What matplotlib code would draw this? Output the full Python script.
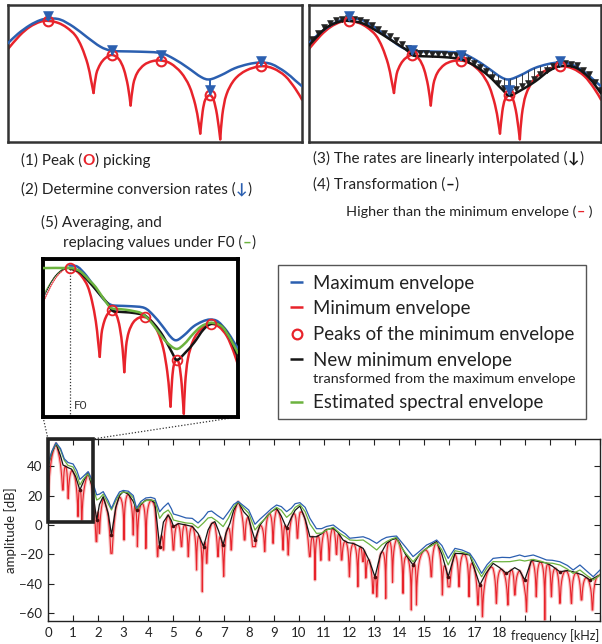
import numpy as np
import matplotlib
matplotlib.use("Agg")
import matplotlib.pyplot as plt
from matplotlib.path import Path
from matplotlib.patches import PathPatch, Rectangle
from matplotlib.transforms import ScaledTranslation

plt.rcParams['font.family'] = ['Lato', 'DejaVu Sans']

BLUE = '#2b5fb0'
RED = '#e8232b'
GREEN = '#6cb33f'
BLACK = '#151515'

# ---------------- schematic curves (normalised 0-100 coordinates) ----------------
sk_max_x = [0, 3.4, 7.4, 10.9, 13.7, 17.7, 22.3, 26.9, 31.4, 34.9, 38.3, 45.1, 52.0,
            56.6, 61.1, 65.7, 68.6, 72.6, 77.1, 81.7, 85.7, 89.7, 94.3, 97.7, 100]
sk_max_y = [72.1, 79.0, 85.2, 88.9, 90.1, 89.4, 84.0, 76.5, 69.6, 66.7, 66.2, 65.9, 64.9,
            60.5, 54.3, 47.4, 45.7, 48.9, 53.8, 56.8, 58.0, 56.8, 51.1, 44.9, 40.7]

# minimum envelope: lobes separated by the dips listed in sk_dip_x
sk_min_x = [0, 4.0, 7.4, 10.9, 13.7, 17.1, 20.0, 22.9, 25.1, 27.1, 28.2, 29.1,
            30.0, 31.4, 33.1, 35.4, 37.7, 39.4, 40.8, 41.7,
            42.6, 44.0, 46.3, 49.1, 52.2, 55.4, 58.9, 61.7, 63.7, 64.8, 65.4,
            66.2, 67.1, 68.6, 69.9, 71.1, 72.2,
            72.9, 74.3, 77.1, 81.1, 86.1, 90.3, 94.3, 97.7, 100]
sk_min_y = [67.9, 77.8, 84.0, 87.7, 88.4, 86.9, 83.5, 77.8, 69.1, 56.8, 45.7, 35.8,
            49.4, 56.8, 61.2, 63.5, 60.5, 53.1, 40.7, 26.7,
            42.0, 50.6, 56.3, 59.0, 59.4, 57.2, 50.6, 40.7, 27.2, 14.8, 6.2,
            22.2, 30.9, 34.1, 30.9, 19.8, 2.0,
            19.8, 34.6, 45.7, 52.3, 55.3, 53.6, 48.1, 39.0, 30.9]
sk_dip_x = [29.1, 41.7, 65.4, 72.2]

sk_peak_x = [13.7, 35.4, 52.2, 68.6, 86.1]
sk_peak_y = [88.4, 63.5, 59.4, 34.1, 55.3]

sk_new_x = [0, 5.5, 10.1, 13.7, 18.6, 23.8, 28.3, 32.9, 35.4, 37.5, 44.3, 50.1, 52.5,
            57.0, 61.6, 66.2, 68.7, 73.0, 77.6, 82.2, 86.4, 91.3, 95.9, 100]
sk_new_y = [70.5, 82.7, 87.6, 88.4, 86.4, 80.2, 74.1, 67.9, 63.5, 62.7, 62.2, 61.2, 60.2,
            55.3, 48.1, 38.3, 33.9, 38.3, 44.4, 51.9, 55.5, 54.3, 46.9, 35.5]

sk_est_x = [0, 13.7, 17.5, 20.2, 24.0, 27.1, 31.0, 34.8, 38.5, 42.5, 46.5, 50.3, 54.0,
            58.0, 63.0, 68.3, 72.5, 76.8, 81.0, 85.4, 89.0, 92.3, 96.0, 100]
sk_est_y = [88.6, 88.6, 87.6, 85.6, 81.0, 77.2, 70.5, 65.0, 64.3, 63.8, 63.0, 61.8, 58.3,
            52.5, 45.0, 40.5, 43.5, 49.2, 53.8, 56.0, 55.5, 53.2, 46.7, 38.0]
sk_f0 = 13.7

# ---------------- measured spectrum (kHz, dB) ----------------
max_freq = [0.0, 0.15, 0.32, 0.5, 0.65, 0.8, 1.0, 1.15, 1.27, 1.4, 1.6, 1.75, 1.94, 2.05, 2.2,
            2.4, 2.53, 2.7, 2.85, 3.0, 3.2, 3.4, 3.53, 3.7, 3.9, 4.1, 4.26, 4.45, 4.6, 4.79,
            4.92, 5.0, 5.2, 5.5, 5.75, 5.98, 6.2, 6.38, 6.52, 6.75, 6.98, 7.2, 7.4, 7.58, 7.8,
            8.0, 8.25, 8.45, 8.71, 8.9, 9.11, 9.3, 9.51, 9.7, 9.85, 10.04, 10.25, 10.44, 10.7,
            10.9, 11.1, 11.37, 11.63, 11.85, 12.03, 12.3, 12.56, 12.8, 13.1, 13.3, 13.49, 13.7,
            13.89, 14.02, 14.25, 14.55, 14.8, 15.09, 15.3, 15.49, 15.7, 15.95, 16.22, 16.5,
            16.81, 17.0, 17.28, 17.5, 17.74, 18.1, 18.41, 18.8, 19.0, 19.34, 19.6, 19.87, 20.1,
            20.4, 20.7, 20.93, 21.2, 21.45, 21.73, 22.0]
max_db = [42, 50, 56, 52, 45, 42.5, 41.5, 37, 31, 33, 36.3, 31, 20.5, 21, 22.7,
          16.5, 11.3, 18, 22.5, 23.5, 23, 20, 11.5, 16, 18.4, 18.8, 18, 9, 12, 15,
          11, 7.5, 6.5, 4.8, 4.5, 1.4, 5, 9, 9.5, 6.5, 3.9, 9, 14, 16, 13,
          10.2, 0.5, 4, 8, 11, 13.6, 12.5, 9.1, 11.5, 14.5, 15.2, 12, 4.5, -2.5,
          -2.5, -1, 0, -3.4, -6, -9, -8.5, -8, -9.5, -12.5, -10, -8.4, -7.8,
          -7.5, -10.2, -15, -21.5, -18, -13.6, -12, -10.2, -14, -22.7, -15.9, -17,
          -19.3, -24, -32.9, -27, -22.7, -22, -22.2, -20.4, -21.5, -20.4, -22, -23.8, -24,
          -25, -27.5, -30.6, -27.2, -31, -35.2, -30.6]

est_freq = max_freq
est_db = [41, 49.5, 55.5, 51, 44, 40.5, 39.5, 34, 27.2, 31, 35, 29, 17, 18, 21,
          14.5, 10.2, 16.5, 21, 22.5, 22, 18.5, 10.2, 14.5, 16.5, 17, 16.5, 4.5, 8, 10.2,
          7, 3.4, 2.5, 1.4, 1, -2, 1.5, 4.8, 5.2, 2.5, -1.1, 5, 12, 15.9, 11.5,
          8, -3.4, 1, 5.2, 9, 12, 10, 5.2, 8, 12, 14, 9, 0.7, -5.7,
          -5.5, -3.5, -1.6, -5.7, -8, -10.2, -10.5, -10.2, -13, -17, -13.5, -11.3, -9.5,
          -8.4, -13.6, -19, -25, -20, -15.9, -14, -12, -17, -27.2, -17.5, -18.5,
          -20, -27, -35.2, -29, -24.9, -25, -24.9, -23.8, -24.5, -23.4, -24.5, -25.9, -26,
          -27.2, -30, -32.9, -30.6, -34, -37.4, -34]

new_freq = [0.0, 0.15, 0.32, 0.5, 0.6, 0.8, 0.94, 1.1, 1.27, 1.45, 1.6, 1.75, 1.94, 2.05, 2.2,
            2.4, 2.53, 2.7, 2.85, 3.0, 3.2, 3.4, 3.53, 3.7, 3.9, 4.1, 4.26, 4.45, 4.6, 4.79,
            4.92, 5.0, 5.2, 5.5, 5.75, 5.98, 6.2, 6.38, 6.52, 6.65, 6.8, 6.98, 7.1, 7.25, 7.4,
            7.58, 7.8, 7.98, 8.1, 8.25, 8.45, 8.71, 8.9, 9.11, 9.3, 9.51, 9.7, 9.85, 10.04,
            10.25, 10.44, 10.7, 10.9, 11.1, 11.37, 11.55, 11.76, 11.95, 12.16, 12.35, 12.56,
            12.8, 13.03, 13.25, 13.49, 13.7, 13.89, 14.02, 14.25, 14.55, 14.8, 15.09, 15.3,
            15.49, 15.7, 15.95, 16.22, 16.5, 16.81, 17.0, 17.21, 17.45, 17.74, 18.0, 18.27,
            18.6, 18.8, 19.0, 19.27, 19.6, 19.87, 20.1, 20.4, 20.7, 20.93, 21.3, 21.6, 22.0]
new_db = [40, 49, 55.5, 47, 40.8, 39, 38, 33, 23.8, 31, 35.5, 27, 3.4, 14, 19.3,
          8, -6.8, 12, 20, 22.7, 21, 16, 10.2, 14, 17, 17, 15, -14.7, 2, 6.8,
          3, -1, 1, 0, -1, -5.7, -14.7, -3.4, 1, 2.3, -4, -13.6, -5, 1.1, 10,
          15.9, 9, 5.7, -2, -10.2, 0, 5.7, 9, 11.3, 6, -2.3, 5, 10, 12.9,
          4, -8, -8, -6, -3, -2.3, -5, -10.2, -12, -12.5, -14, -15.9,
          -24, -35.2, -20, -12.5, -10, -9.1, -12.5, -20, -27.2, -20, -15.9, -13,
          -11.3, -20, -35.2, -19.3, -19.5, -20.4, -30, -40.8, -33, -26.1, -29, -32.9,
          -29, -31, -37.4, -24, -25, -25.9, -28, -31.8, -31, -31.8, -34, -37.4, -34]

dip_freq = [0.0, 0.6, 0.8, 1.2, 1.34, 1.94, 2.04, 2.53, 3.03, 3.4, 3.56, 3.9, 4.37, 4.6,
            5.0, 5.32, 5.59, 5.92, 6.15, 6.32, 6.78, 7.0, 7.3, 7.84, 8.18, 8.64, 8.97,
            9.37, 9.57, 9.94, 10.44, 10.64, 10.87, 11.21, 11.5, 11.7, 12.01, 12.35, 12.56,
            12.66, 12.96, 13.1, 13.46, 13.73, 14.15, 14.48, 14.68, 15.28, 15.72, 15.98,
            16.38, 16.78, 17.14, 17.31, 17.87, 18.33, 18.6, 19.07, 19.46, 19.8, 20.06,
            20.4, 20.86, 21.26, 21.7]
dip_db = [12, 23.8, 18, 5.7, 3.4, -11.3, -5.7, -19.3, -10.2, -6.8, -14.7, -16, -21.5, -17,
          -17, -14.7, -21.5, -30.6, -45.4, -26, -21.5, -35, -17, -10.2, -14.7, -18, -12.5,
          -17, -20.4, -9, -21.5, -37.4, -24, -24, -20, -23.8, -35.2, -42, -24.9,
          -36, -46.5, -48.8, -50, -39, -46.5, -57.8, -54.4, -35.2, -47.6, -42,
          -42, -48.8, -54.4, -62.4, -53.3, -54.4, -47.6, -59, -48.8, -64.6, -48.8,
          -53.3, -53.3, -51, -57.8]

freq_ticks = list(range(0, 23))
freq_labels = [str(v) if v <= 18 else '' for v in freq_ticks]
db_ticks = [-60, -40, -20, 0, 20, 40]

# ---------------- figure ----------------
W, H = 602, 644
fig = plt.figure(figsize=(W / 100, H / 100), dpi=100)


def px_axes(l, t, r, b, **kw):
    return fig.add_axes([l / W, 1 - b / H, (r - l) / W, (b - t) / H], **kw)


bg = px_axes(0, 0, W, H)
bg.set_xlim(0, W)
bg.set_ylim(H, 0)
bg.axis('off')


def smooth_path(x, y):
    p = np.column_stack([x, y]).astype(float)
    ext = np.vstack([p[0], p, p[-1]])
    verts = [p[0]]
    codes = [Path.MOVETO]
    for i in range(len(p) - 1):
        p0, p1, p2, p3 = ext[i], ext[i + 1], ext[i + 2], ext[i + 3]
        verts += [p1 + (p2 - p0) / 6, p2 - (p3 - p1) / 6, p2]
        codes += [Path.CURVE4] * 3
    return Path(verts, codes)


def curve(ax, x, y, color, lw=1.8, ls='-', z=2):
    ax.add_patch(PathPatch(smooth_path(x, y), fill=False, edgecolor=color, lw=lw,
                           ls=ls, zorder=z, capstyle='round', joinstyle='round'))


def lobes(x, y, cuts):
    x = np.asarray(x, float)
    y = np.asarray(y, float)
    out, start = [], 0
    for i in range(1, len(x)):
        if np.any(np.isclose(x[i], cuts)):
            out.append((x[start:i + 1], y[start:i + 1]))
            start = i
    out.append((x[start:], y[start:]))
    return out


def down_arrow(ax, x, y0, y1, color, ms, lw, z):
    ax.plot([x, x], [y0, y1], color=color, lw=lw, zorder=z, solid_capstyle='butt')
    tr = ax.transData + ScaledTranslation(0, ms / 2 / 72, fig.dpi_scale_trans)
    ax.plot([x], [y1], marker='v', ms=ms, color=color, mec=color, mew=0.4,
            ls='none', transform=tr, zorder=z + 0.5)


def frame(ax, color, lw):
    ax.set_xticks([])
    ax.set_yticks([])
    for s in ax.spines.values():
        s.set_color(color)
        s.set_linewidth(lw)


# ---------- panel (1)-(2) ----------
p1 = px_axes(8, 5, 302, 142)
p2 = px_axes(309, 5, 601, 142)
for ax in (p1, p2):
    ax.set_xlim(0, 100)
    ax.set_ylim(0, 100)
    frame(ax, '#333333', 1.8)
    for lx, ly in lobes(sk_min_x, sk_min_y, sk_dip_x):
        curve(ax, lx, ly, RED, z=2)
    curve(ax, sk_max_x, sk_max_y, BLUE, z=3)
    ax.plot(sk_peak_x, sk_peak_y, 'o', ms=7, mfc='none', mec=RED, mew=1.5, zorder=6)

# interpolated rates along the whole axis
arrow_x = np.arange(1.0, 100, 2.06)
for xa in arrow_x:
    down_arrow(p2, xa, np.interp(xa, sk_max_x, sk_max_y), np.interp(xa, sk_new_x, sk_new_y),
               '#222222', 4.4, 0.6, 4)
curve(p2, sk_new_x, sk_new_y, BLACK, z=5)

for ax in (p1, p2):
    for xp, yp in zip(sk_peak_x, sk_peak_y):
        down_arrow(ax, xp, np.interp(xp, sk_max_x, sk_max_y), yp, BLUE, 7.5, 1.4, 7)

# ---------- inset (5) ----------
ins = px_axes(43, 259, 238, 417)
ins.set_xlim(0, 100)
ins.set_ylim(0, 94)
frame(ins, 'black', 2.8)
for i, (lx, ly) in enumerate(lobes(sk_min_x, sk_min_y, sk_dip_x)):
    if i == 0:
        left = lx <= sk_f0
        right = lx >= sk_f0
        curve(ins, lx[left], ly[left], RED, lw=0.8, ls=(0, (1, 1)), z=2)
        curve(ins, lx[right], ly[right], RED, z=2)
    else:
        curve(ins, lx, ly, RED, z=2)
mx, my = np.array(sk_max_x), np.array(sk_max_y)
nx, ny = np.array(sk_new_x), np.array(sk_new_y)
curve(ins, mx[mx <= sk_f0], my[mx <= sk_f0], GREEN, lw=0.7, z=2)
curve(ins, nx[nx <= sk_f0], ny[nx <= sk_f0], BLACK, lw=0.7, ls=(0, (1, 1)), z=2)
curve(ins, mx[mx >= sk_f0], my[mx >= sk_f0], BLUE, z=3)
curve(ins, nx[nx >= sk_f0], ny[nx >= sk_f0], BLACK, z=4)
curve(ins, sk_est_x, sk_est_y, GREEN, z=5)
ins.plot(sk_peak_x, sk_peak_y, 'o', ms=7, mfc='none', mec=RED, mew=1.3, zorder=6)
ins.plot([sk_f0, sk_f0], [0, sk_peak_y[0]], color='#333333', lw=0.9, ls=(0, (1, 1.5)), zorder=1)
ins.text(sk_f0 + 2.2, 3.5, 'F0', fontsize=8.5, color='#333333', va='bottom', ha='left')

# ---------- measured spectrum ----------
ax = px_axes(48, 439, 600, 621)
ax.set_xlim(0, 22)
ax.set_ylim(-65.3, 58.5)

f_grid = np.union1d(np.linspace(0, 22, 4401), dip_freq)
base = np.interp(f_grid, new_freq, new_db)
d = np.asarray(dip_freq)
b = np.asarray(dip_db)
k = np.clip(np.searchsorted(d, f_grid, side='right') - 1, 0, len(d) - 1)
kr = np.minimum(k + 1, len(d) - 1)
width = np.where(kr > k, d[kr] - d[k], d[-1] - d[-2])
t = np.clip((f_grid - d[k]) / width, 0, 1)
t = np.where(kr > k, t, np.minimum(t, 0.5))
drop = 20 * np.log10(np.maximum(np.sin(np.pi * t), 1e-5))
floor = np.where((kr == k) | ((f_grid - d[k]) <= (d[kr] - f_grid)), b[k], b[kr])
min_db = np.maximum(base + drop, floor)

ax.plot(f_grid, min_db, color='#f28a8a', lw=2.4, alpha=0.55, zorder=1)
ax.plot(f_grid, min_db, color=RED, lw=0.8, zorder=2)
ax.plot(new_freq, new_db, color=BLACK, lw=0.9, zorder=3)
ax.plot(est_freq, est_db, color=GREEN, lw=0.9, zorder=4)
ax.plot(max_freq, max_db, color=BLUE, lw=0.9, zorder=5)

# peaks of the minimum envelope sit in the valleys of the new minimum envelope
nd = np.asarray(new_db)
valley = np.r_[False, (nd[1:-1] < nd[:-2]) & (nd[1:-1] < nd[2:]), False]
ax.plot(np.asarray(new_freq)[valley], nd[valley], 'o', ms=2.6, color='#4a0c0c',
        mec='none', zorder=6)

ax.set_xticks(freq_ticks)
ax.set_xticklabels(freq_labels)
ax.set_yticks(db_ticks)
ax.tick_params(direction='in', top=True, right=True, length=4, width=0.8,
               labelsize=9.5, colors='#222222', pad=4)
for s in ax.spines.values():
    s.set_linewidth(1.0)
    s.set_color('#222222')
ax.set_ylabel('amplitude [dB]', fontsize=9.5, labelpad=2, color='#222222')
ax.annotate('frequency [kHz]', xy=(18.45, 0), xycoords=('data', 'axes fraction'),
            xytext=(0, -5.5), textcoords='offset points', va='top', ha='left',
            fontsize=9, color='#222222')

zoom_f = (0.0, 1.78)
zoom_db = (2.2, 58.5)
ax.add_patch(Rectangle((zoom_f[0], zoom_db[0]), zoom_f[1] - zoom_f[0], zoom_db[1] - zoom_db[0],
                       fill=False, ec='#222222', lw=2.6, zorder=8, clip_on=False))

# dotted links from the inset to the zoomed region
fig.canvas.draw()
to_bg = bg.transData.inverted()
c_tl = to_bg.transform(ax.transData.transform((zoom_f[0], zoom_db[1])))
c_tr = to_bg.transform(ax.transData.transform((zoom_f[1], zoom_db[1])))
i_bl = to_bg.transform(ins.transAxes.transform((0, 0)))
i_br = to_bg.transform(ins.transAxes.transform((1, 0)))
for a, c in ((i_bl, c_tl), (i_br, c_tr)):
    bg.plot([a[0], c[0]], [a[1], c[1]], color='#333333', lw=0.9, ls=(0, (1, 1.5)))

# ---------- captions ----------
renderer = fig.canvas.get_renderer()


def rich(x, y, parts, size):
    for s, c, wgt in parts:
        txt = bg.text(x, y, s, color=c, fontsize=size, va='baseline', ha='left',
                      fontweight=wgt)
        x += txt.get_window_extent(renderer).width


TXT = '#222222'
rich(21, 165, [('(1) Peak (', TXT, 'normal'), ('O', RED, 'bold'), (') picking', TXT, 'normal')], 11)
rich(21, 194, [('(2) Determine conversion rates (', TXT, 'normal'), ('\u2193', BLUE, 'bold'),
               (')', TXT, 'normal')], 11)
rich(313, 163, [('(3) The rates are linearly interpolated (', TXT, 'normal'),
                ('\u2193', BLACK, 'bold'), (')', TXT, 'normal')], 11)
rich(313, 189, [('(4) Transformation (', TXT, 'normal'), ('\u2013', BLACK, 'bold'),
                (')', TXT, 'normal')], 11)
rich(346, 216, [('Higher than the minimum envelope (', TXT, 'normal'), ('\u2013', RED, 'bold'),
                (' )', TXT, 'normal')], 10.4)
rich(41, 227, [('(5) Averaging, and', TXT, 'normal')], 11)
rich(63, 247, [('replacing values under F0 (', TXT, 'normal'), ('\u2013', GREEN, 'bold'),
               (')', TXT, 'normal')], 11)

# ---------- legend ----------
bg.add_patch(Rectangle((278, 265), 308, 154, fill=False, ec='#555555', lw=1.0))
leg_items = [
    ('line', BLUE, 282, 'Maximum envelope', 289),
    ('line', RED, 307, 'Minimum envelope', 314),
    ('circle', RED, 334, 'Peaks of the minimum envelope', 340),
    ('line', BLACK, 359, 'New minimum envelope', 366),
    ('line', GREEN, 402, 'Estimated spectral envelope', 408),
]
for kind, col, yc, label, ybase in leg_items:
    if kind == 'line':
        bg.plot([290, 303], [yc, yc], color=col, lw=1.8, solid_capstyle='butt')
    else:
        bg.plot([296.5], [yc], 'o', ms=7, mfc='none', mec=col, mew=1.6)
    bg.text(313, ybase, label, fontsize=13.4, color=TXT, va='baseline', ha='left')
bg.text(313, 383, 'transformed from the maximum envelope', fontsize=10.4, color=TXT,
        va='baseline', ha='left')

fig.savefig('out.png', dpi=100)
